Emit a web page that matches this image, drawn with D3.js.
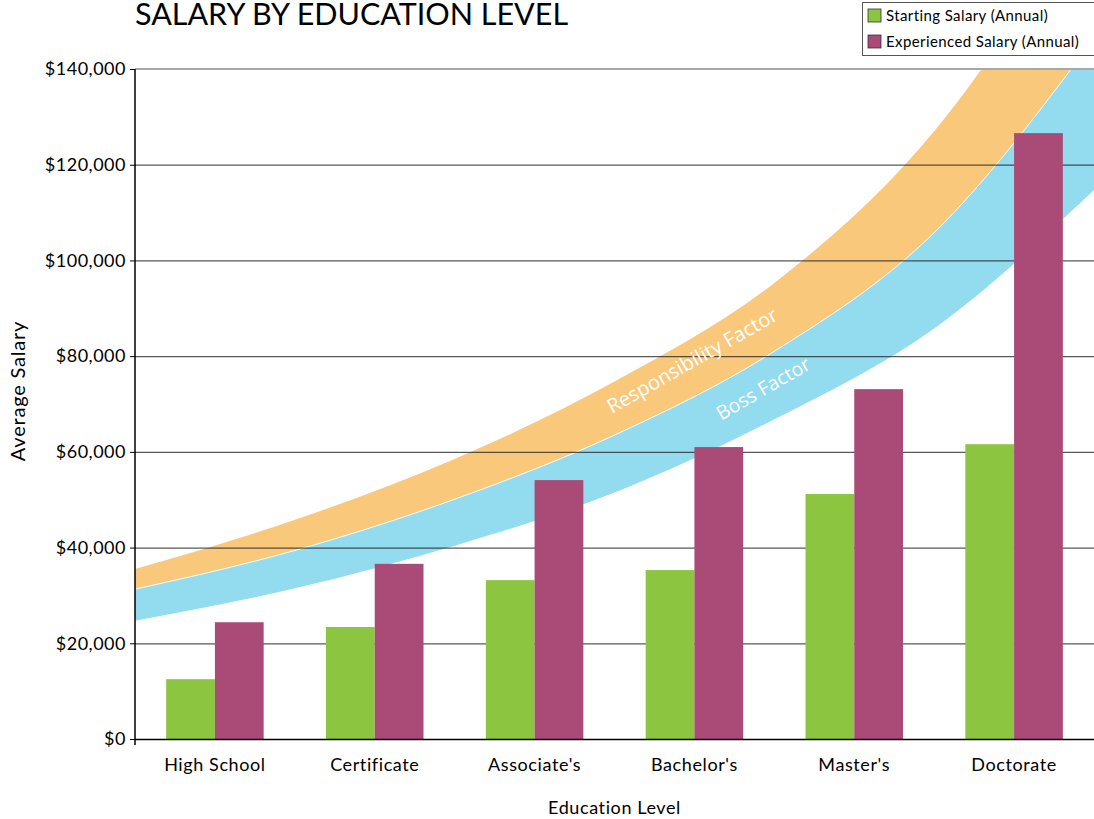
<!DOCTYPE html>
<html>
<head>
<meta charset="utf-8">
<script src="https://cdn.jsdelivr.net/npm/d3@7"></script>
<style>
  body { margin: 0; background: #fff; }
  text { font-family: Lato, "Noto Sans", sans-serif; }
</style>
</head>
<body>
<script>
// categories and series
var categories = ["High School", "Certificate", "Associate's", "Bachelor's", "Master's", "Doctorate"];
var seriesNames = ["Starting Salary (Annual)", "Experienced Salary (Annual)"];
var starting = [12500, 23400, 33200, 35300, 51200, 61600];
var experienced = [24400, 36600, 54100, 61000, 73100, 126600];
var seriesColors = ["#8cc540", "#aa4a77"];

// decorative bands, sampled at category edges (0..6)
var bandPos = [0, 1, 2, 3, 4, 5, 6];
var respTop = [35500, 45800, 58500, 74700, 95300, 127000, 176000];
var respBottom = [31300, 39400, 50100, 63500, 81000, 105800, 146300];
var bossBottom = [24700, 31500, 40400, 51500, 66800, 85800, 114700];

var yTicks = [0, 20000, 40000, 60000, 80000, 100000, 120000, 140000];

var w = 1094, h = 819;
var plotL = 135, plotR = 1094, plotT = 69, plotB = 739;

var svg = d3.select("body").append("svg")
    .attr("width", w)
    .attr("height", h);

var y = d3.scaleLinear().domain([0, 140000]).range([plotB, plotT]);
var xPos = d3.scaleLinear().domain([0, 6]).range([plotL, plotR]);
var x0 = d3.scaleBand().domain(categories).range([plotL, plotR])
    .paddingInner(0.39).paddingOuter(0.195);
var x1 = d3.scaleBand().domain([0, 1]).range([0, x0.bandwidth()]);

svg.append("clipPath").attr("id", "plotclip")
  .append("rect")
    .attr("x", plotL).attr("y", plotT)
    .attr("width", plotR - plotL).attr("height", plotB - plotT);

// bands
var band = svg.append("g").attr("clip-path", "url(#plotclip)");
var respData = bandPos.map(function(p, i) { return {p: p, a: respTop[i], b: respBottom[i]}; });
var bossData = bandPos.map(function(p, i) { return {p: p, a: respBottom[i], b: bossBottom[i]}; });

var area = d3.area()
    .x(function(d) { return xPos(d.p); })
    .y0(function(d) { return y(d.b); })
    .y1(function(d) { return y(d.a); })
    .curve(d3.curveMonotoneX);

band.append("path").datum(respData).attr("d", area).attr("fill", "#fac87b");
band.append("path").datum(bossData).attr("d", area).attr("fill", "#93dbef");
band.append("path").datum(bossData)
    .attr("d", d3.line().x(function(d) { return xPos(d.p); }).y(function(d) { return y(d.a); }).curve(d3.curveMonotoneX))
    .attr("fill", "none").attr("stroke", "#fff").attr("stroke-width", 1).attr("opacity", 0.9);

// gridlines
svg.append("g").selectAll("line")
  .data(yTicks.filter(function(d) { return d > 0 && d < 140000; }))
  .enter().append("line")
    .attr("x1", plotL).attr("x2", plotR)
    .attr("y1", function(d) { return y(d) + 0.5; })
    .attr("y2", function(d) { return y(d) + 0.5; })
    .attr("stroke", "#222").attr("stroke-opacity", 0.75).attr("stroke-width", 1.3);

svg.append("line")
    .attr("x1", plotL).attr("x2", plotR)
    .attr("y1", y(140000)).attr("y2", y(140000))
    .attr("stroke", "#a8a8a8").attr("stroke-width", 2);

// band labels
svg.append("text")
    .attr("transform", "translate(693,362) rotate(-29.5)")
    .attr("text-anchor", "middle").attr("dominant-baseline", "middle")
    .attr("fill", "#fff").style("font-family", "'Open Sans', sans-serif").style("font-size", "20px")
    .text("Responsibility Factor");
svg.append("text")
    .attr("transform", "translate(764,390) rotate(-30)")
    .attr("text-anchor", "middle").attr("dominant-baseline", "middle")
    .attr("fill", "#fff").style("font-family", "'Open Sans', sans-serif").style("font-size", "19.5px")
    .text("Boss Factor");

// bars
var groups = svg.append("g").selectAll("g")
  .data(categories)
  .enter().append("g")
    .attr("transform", function(d) { return "translate(" + x0(d) + ",0)"; });

groups.selectAll("rect")
  .data(function(d, i) { return [starting[i], experienced[i]]; })
  .enter().append("rect")
    .attr("x", function(d, j) { return x1(j); })
    .attr("width", x1.bandwidth())
    .attr("y", function(d) { return y(d); })
    .attr("height", function(d) { return plotB - y(d); })
    .attr("fill", function(d, j) { return seriesColors[j]; });

// axes
var yAxis = d3.axisLeft(y).tickValues(yTicks).tickSize(5).tickPadding(4)
    .tickFormat(function(d) { return "$" + d3.format(",")(d); });
var gy = svg.append("g").attr("transform", "translate(" + plotL + ",0)").call(yAxis);
gy.select(".domain").attr("d", "M0," + plotT + "V" + (plotB + 6)).attr("stroke", "#000").attr("stroke-width", 1.5);
gy.selectAll(".tick line").attr("stroke", "#000");
gy.selectAll(".tick text").style("font-size", "18px").style("letter-spacing", "0.5px").attr("fill", "#000");

svg.append("line")
    .attr("x1", plotL).attr("x2", plotR)
    .attr("y1", plotB + 0.5).attr("y2", plotB + 0.5)
    .attr("stroke", "#000").attr("stroke-width", 1.5);

svg.append("g").selectAll("text")
  .data(categories)
  .enter().append("text")
    .attr("x", function(d) { return x0(d) + x0.bandwidth() / 2; })
    .attr("y", 771)
    .attr("text-anchor", "middle")
    .style("font-size", "18px").style("letter-spacing", "0.6px")
    .text(function(d) { return d; });

// axis titles
svg.append("text")
    .attr("x", (plotL + plotR) / 2).attr("y", 814)
    .attr("text-anchor", "middle").style("font-size", "18px").style("letter-spacing", "0.6px")
    .text("Education Level");
svg.append("text")
    .attr("transform", "translate(25,391) rotate(-90)")
    .attr("text-anchor", "middle").style("font-size", "20px").style("letter-spacing", "0.8px")
    .text("Average Salary");

// title
svg.append("text")
    .attr("x", 135).attr("y", 25)
    .style("font-size", "30.5px")
    .text("SALARY BY EDUCATION LEVEL");

// legend
var legend = svg.append("g").attr("transform", "translate(862,2)");
legend.append("rect")
    .attr("x", 0.5).attr("y", 0.5).attr("width", 233).attr("height", 53)
    .attr("fill", "#fff").attr("stroke", "#555");
var items = legend.selectAll("g.item")
  .data(seriesNames)
  .enter().append("g").attr("class", "item")
    .attr("transform", function(d, i) { return "translate(6," + (7 + i * 26) + ")"; });
items.append("rect")
    .attr("width", 13).attr("height", 13)
    .attr("fill", function(d, i) { return seriesColors[i]; })
    .attr("stroke", "#333").attr("stroke-width", 0.8);
items.append("text")
    .attr("x", 18).attr("y", 12)
    .style("font-size", "15px").style("letter-spacing", "0.4px")
    .text(function(d) { return d; });
</script>
</body>
</html>
